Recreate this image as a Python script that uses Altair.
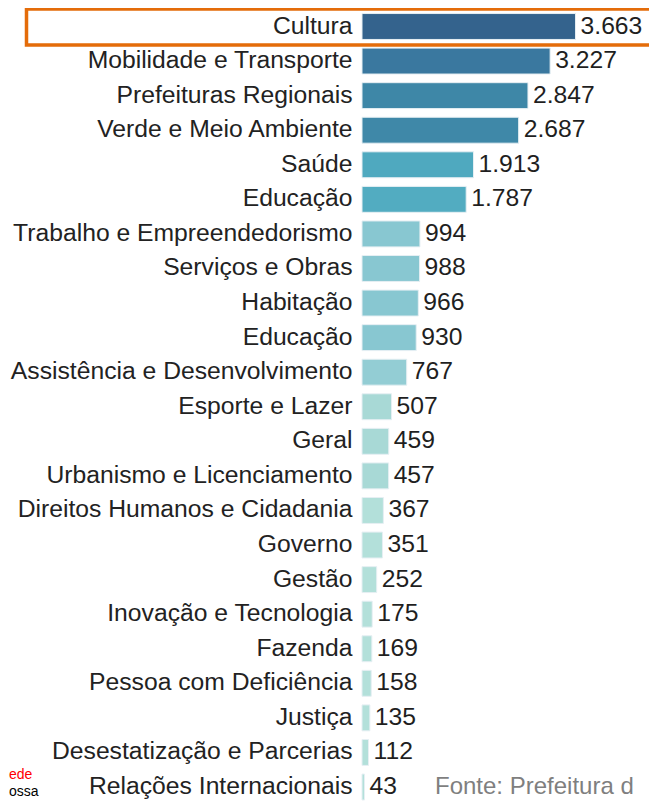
import json
import altair as alt
import pandas as pd

categories = [
    "Cultura", "Mobilidade e Transporte", "Prefeituras Regionais", "Verde e Meio Ambiente",
    "Saúde", "Educação", "Trabalho e Empreendedorismo", "Serviços e Obras", "Habitação",
    "Educação", "Assistência e Desenvolvimento", "Esporte e Lazer", "Geral",
    "Urbanismo e Licenciamento", "Direitos Humanos e Cidadania", "Governo", "Gestão",
    "Inovação e Tecnologia", "Fazenda", "Pessoa com Deficiência", "Justiça",
    "Desestatização e Parcerias", "Relações Internacionais",
]
values = [3663, 3227, 2847, 2687, 1913, 1787, 994, 988, 966, 930, 767, 507, 459, 457,
          367, 351, 252, 175, 169, 158, 135, 112, 43]
palette = [
    "#34638D", "#3A789F", "#3E87A7", "#3F88A8", "#4FA9BF", "#52ACC1",
    "#88C7D1", "#88C7D1", "#88C7D1", "#88C7D1", "#93CDD4",
    "#A8D9D6", "#A8D9D6", "#A8D9D6",
    "#B3E0DA", "#B3E0DA", "#B3E0DA", "#B3E0DA", "#B3E0DA", "#B3E0DA", "#B3E0DA", "#B3E0DA", "#B3E0DA",
]
note_red = ["ede"]
note_black = ["ossa"]
source = ["Fonte: Prefeitura d"]

FONT = "Liberation Sans"

df = pd.DataFrame({
    "id": list(range(len(categories))),
    "cat": categories,
    "value": values,
    "label": [f"{v:,}".replace(",", ".") for v in values],
    "color": palette,
})

label_expr = json.dumps(categories, ensure_ascii=False) + "[datum.value]"

y_enc = alt.Y(
    "id:O",
    scale=alt.Scale(range=[-0.78, 794.3], paddingInner=0.25, paddingOuter=0.125),
    axis=alt.Axis(title=None, labelExpr=label_expr, domain=False, ticks=False, tickSize=0,
                  labelPadding=10, labelFontSize=24.7, labelFont=FONT, labelColor="#222222",
                  labelLimit=400, grid=False),
)
x_enc = alt.X("value:Q", scale=alt.Scale(domain=[0, 4923], nice=False), axis=None)

base = alt.Chart(df)

bars = base.mark_bar(stroke="#e6eff3", strokeWidth=1).encode(
    y=y_enc, x=x_enc, color=alt.Color("color:N", scale=None)
)
texts = base.mark_text(align="left", baseline="middle", dx=5, fontSize=24.7, font=FONT,
                       color="#1f1f1f").encode(y=y_enc, x=x_enc, text="label")

highlight = alt.Chart(pd.DataFrame({"k": [0]})).mark_rect(
    fillOpacity=0, stroke="#E46C0A", strokeWidth=3.5
).encode(x=alt.value(-335.5), x2=alt.value(300), y=alt.value(-1), y2=alt.value(35))

rede = alt.Chart(pd.DataFrame({"t": note_red})).mark_text(
    align="left", baseline="alphabetic", fontSize=14, font=FONT, color="#FF0000"
).encode(text="t:N", x=alt.value(-353), y=alt.value(769))
nossa = alt.Chart(pd.DataFrame({"t": note_black})).mark_text(
    align="left", baseline="alphabetic", fontSize=14, font=FONT, color="#000000"
).encode(text="t:N", x=alt.value(-353), y=alt.value(786))
fonte = alt.Chart(pd.DataFrame({"t": source})).mark_text(
    align="left", baseline="alphabetic", fontSize=24, font=FONT, color="#7F7F7F"
).encode(text="t:N", x=alt.value(73), y=alt.value(784))

chart = alt.layer(bars, texts, highlight, rede, nossa, fonte).properties(
    width=287, height=791,
    autosize=alt.AutoSizeParams(type="none"),
    padding={"left": 354, "top": 2, "right": 0, "bottom": 0},
    background="white",
).configure_view(stroke=None)

chart.save("out.html", embed_options={"renderer": "svg", "actions": False})
